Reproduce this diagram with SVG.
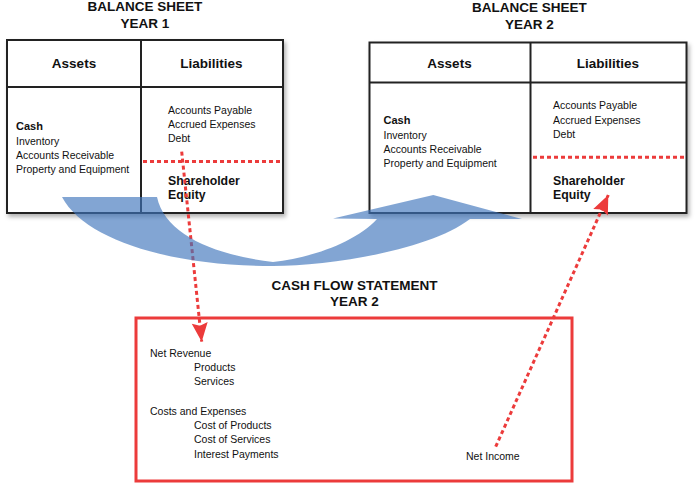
<svg xmlns="http://www.w3.org/2000/svg" width="699" height="483" viewBox="0 0 699 483">
<style>
text{font-family:"Liberation Sans",Arial,Helvetica,sans-serif;fill:#111}
.title{font-size:13.5px;font-weight:bold;text-anchor:middle}
.hdr{font-size:13.5px;font-weight:bold;text-anchor:middle}
.item{font-size:10.5px}
.bold{font-size:11px;font-weight:bold}
.eq{font-size:12.3px;font-weight:bold}
.box{fill:#fff;stroke:#222;stroke-width:2}
.div{stroke:#222;stroke-width:2;fill:none}
.sep{stroke:#ec3b3b;stroke-width:3;stroke-dasharray:4 3;fill:none}
.conn{stroke:#ec3b3b;stroke-width:3;stroke-dasharray:4 3;fill:none;marker-end:url(#head)}
.cfbox{fill:none;stroke:#ec3b3b;stroke-width:3}
</style>
<defs>
<filter id="shadow" x="-5%" y="-5%" width="115%" height="120%">
<feDropShadow dx="2" dy="3" stdDeviation="2" flood-color="#000" flood-opacity="0.3"/>
</filter>
<marker id="head" viewBox="-1 -9 21 18" refX="19" refY="0" markerWidth="21" markerHeight="18" markerUnits="userSpaceOnUse" orient="auto">
<path d="M0,-8 L19,0 L0,8 L3,0 Z" fill="#ec3b3b"/>
</marker>
</defs>

<g id="balance-sheet-1">
<text class="title" x="145" y="11">BALANCE SHEET</text>
<text class="title" x="145" y="27.5">YEAR 1</text>
<rect class="box" x="7" y="40" width="276" height="173" filter="url(#shadow)"/>
<path class="div" d="M141,40 V213 M7,87 H283"/>
<text class="hdr" x="74" y="67.5">Assets</text>
<text class="hdr" x="211.5" y="67.5">Liabilities</text>
<text class="bold" x="16" y="129.5">Cash</text>
<text class="item" x="16" y="144.5">Inventory</text>
<text class="item" x="16" y="158.5">Accounts Receivable</text>
<text class="item" x="16" y="172.5">Property and Equipment</text>
<text class="item" x="168" y="113.5">Accounts Payable</text>
<text class="item" x="168" y="127.7">Accrued Expenses</text>
<text class="item" x="168" y="141.9">Debt</text>
<path class="sep" d="M143,161.5 H283"/>
<text class="eq" x="168" y="184.5">Shareholder</text>
<text class="eq" x="168" y="199">Equity</text>
</g>

<g id="balance-sheet-2">
<text class="title" x="529.5" y="12">BALANCE SHEET</text>
<text class="title" x="529.5" y="29">YEAR 2</text>
<rect class="box" x="369.5" y="42.5" width="317" height="170.5" filter="url(#shadow)"/>
<path class="div" d="M530.5,42.5 V213 M369.5,82.5 H686.5"/>
<text class="hdr" x="449.5" y="67.5">Assets</text>
<text class="hdr" x="608" y="67.5">Liabilities</text>
<text class="bold" x="383.5" y="124">Cash</text>
<text class="item" x="383.5" y="138.5">Inventory</text>
<text class="item" x="383.5" y="152.5">Accounts Receivable</text>
<text class="item" x="383.5" y="166.5">Property and Equipment</text>
<text class="item" x="553" y="109">Accounts Payable</text>
<text class="item" x="553" y="123.5">Accrued Expenses</text>
<text class="item" x="553" y="138">Debt</text>
<path class="sep" d="M533,157.3 H686.5"/>
<text class="eq" x="553" y="184.5">Shareholder</text>
<text class="eq" x="553" y="199">Equity</text>
</g>

<g id="cash-flow-statement">
<text class="title" x="354.5" y="290">CASH FLOW STATEMENT</text>
<text class="title" x="354.5" y="305.5">YEAR 2</text>
<rect class="cfbox" x="136" y="318" width="436" height="163"/>
<text class="item" x="150" y="356.5">Net Revenue</text>
<text class="item" x="194" y="371">Products</text>
<text class="item" x="194" y="385">Services</text>
<text class="item" x="150" y="415">Costs and Expenses</text>
<text class="item" x="194" y="429.3">Cost of Products</text>
<text class="item" x="194" y="443.4">Cost of Services</text>
<text class="item" x="194" y="457.5">Interest Payments</text>
<text class="item" x="466" y="460">Net Income</text>
</g>

<g id="connectors">
<path class="conn" d="M181.7,151.7 L201.7,341.7"/>
<path class="conn" d="M495.7,446.7 L608.3,195"/>
</g>

<g id="flow-arrow">
<path d="M62,197 L157,197 C165,235 215,255 273,262 C310,258 355,243 377,219 L333,218.5 L433.3,195 L522,219 L470,219 C430,250 330,266 273,266 C170,266 85,240 62,197 Z" fill="#3f74bb" fill-opacity="0.65"/>
</g>
</svg>
